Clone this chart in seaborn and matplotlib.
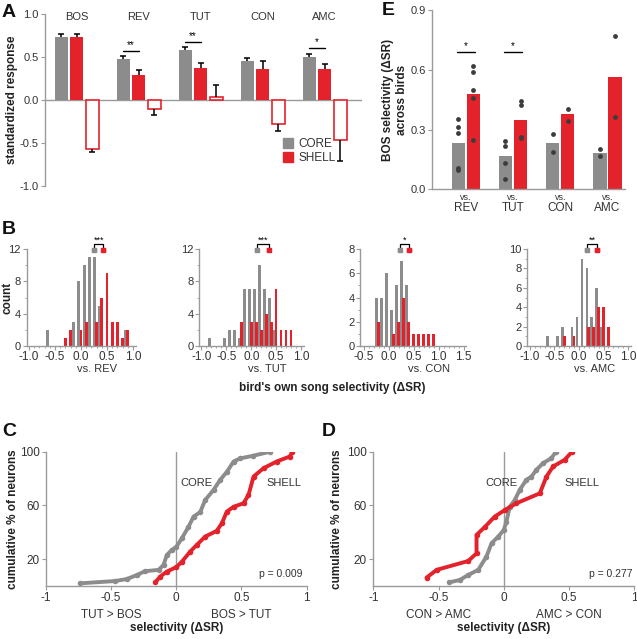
import pandas as pd
import matplotlib.pyplot as plt
from matplotlib.patches import Patch
import seaborn as sns

GRAY = "#8c8c8c"
RED = "#e3222b"
AXC = "#9a9a9a"
TXT = "#333333"
DOT = "#3c3c3c"

# ---------- A: standardized response
stimuli = ["BOS", "REV", "TUT", "CON", "AMC"]
populations = ["CORE", "SHELL", "SHELL open"]
core_resp = [0.735, 0.475, 0.58, 0.45, 0.495]
core_err = [0.03, 0.035, 0.035, 0.035, 0.045]
shell_resp = [0.735, 0.285, 0.375, 0.36, 0.355]
shell_err = [0.035, 0.065, 0.06, 0.095, 0.06]
open_resp = [-0.575, -0.10, 0.04, -0.275, -0.465]
open_err = [0.03, 0.07, 0.13, 0.09, 0.25]
sig_a_stim = ["REV", "TUT", "AMC"]
sig_a_y = [0.57, 0.68, 0.60]
sig_a_txt = ["**", "**", "*"]

# ---------- E: BOS selectivity across birds
e_stimuli = ["REV", "TUT", "CON", "AMC"]
e_core_mean = [0.23, 0.165, 0.23, 0.18]
e_shell_mean = [0.48, 0.348, 0.376, 0.565]
e_core_birds = [[0.355, 0.315, 0.285, 0.105, 0.095], [0.243, 0.217, 0.134, 0.052],
                [0.276, 0.186], [0.2, 0.166]]
e_shell_birds = [[0.62, 0.59, 0.498, 0.46, 0.248], [0.445, 0.423, 0.265, 0.26],
                 [0.404, 0.343], [0.771, 0.365]]
sig_e_stim = ["REV", "TUT"]
sig_e_y = [0.69, 0.69]

# ---------- B: histograms (bin index k -> selectivity k/10)
hist_names = ["vs. REV", "vs. TUT", "vs. CON", "vs. AMC"]
rev_core_k = [-6, -1, 0, 1, 2, 3, 4, 9]
rev_core_n = [2, 3, 8, 10, 11, 11, 5, 2]
rev_shell_k = [-3, -2, 0, 1, 3, 4, 5, 6, 7, 8, 9]
rev_shell_n = [1, 2, 2, 3, 3, 6, 9, 3, 3, 1, 2]
tut_core_k = [-8, -5, -4, -3, -2, -1, 0, 1, 2, 3, 4, 5]
tut_core_n = [1, 1, 2, 2, 1, 7, 7, 7, 10, 7, 6, 2]
tut_shell_k = [-2, 0, 1, 2, 3, 4, 5, 6, 7, 8]
tut_shell_n = [3, 3, 3, 2, 4, 3, 7, 2, 2, 2]
con_core_k = [-2, -1, 0, 1, 2, 3, 4]
con_core_n = [4, 4, 6, 3, 5, 7, 5]
con_shell_k = [-2, 1, 2, 3, 4, 5, 6, 7, 8, 9]
con_shell_n = [2, 1, 2, 4, 2, 1, 1, 1, 1, 1]
amc_core_k = [-6, -4, -3, -1, 0, 1, 2, 3, 4, 5]
amc_core_n = [1, 1, 2, 2, 3, 9, 8, 3, 6, 2]
amc_shell_k = [-3, -1, 2, 3, 4, 5, 6]
amc_shell_n = [1, 1, 2, 2, 4, 4, 2]
hist_core_mean = [0.25, 0.11, 0.22, 0.16]
hist_shell_mean = [0.43, 0.35, 0.41, 0.37]
hist_stars = ["***", "***", "*", "**"]
hist_ymax = [12, 12, 8, 10]
hist_yticks = [[0, 4, 8, 12], [0, 4, 8, 12], [0, 2, 4, 6, 8], [0, 2, 4, 6, 8, 10]]

# ---------- C / D: cumulative distributions
c_core_x = [-0.735, -0.467, -0.378, -0.30, -0.24, -0.135, -0.097, -0.072, -0.033, 0.0, 0.043,
            0.094, 0.133, 0.184, 0.222, 0.286, 0.337, 0.388, 0.44, 0.49, 0.59, 0.72]
c_core_pct = [2, 3.7, 5.2, 8.2, 11, 12, 15.7, 23, 27, 29, 35.5,
              44, 51.7, 55, 64, 71.5, 79, 85, 92.7, 95, 97, 100]
c_shell_x = [-0.16, -0.123, -0.072, 0.0, 0.043, 0.107, 0.158, 0.222, 0.31, 0.35, 0.388,
             0.44, 0.516, 0.554, 0.593, 0.669, 0.77, 0.87, 0.89]
c_shell_pct = [2.7, 7, 10.7, 14, 18, 25.6, 30.6, 36.8, 41, 46.7, 55.4,
               59, 61.6, 67.8, 81.5, 87.7, 92.7, 96.4, 100]
d_core_x = [-0.418, -0.337, -0.273, -0.196, -0.133, -0.094, -0.043, 0.0, 0.02, 0.046, 0.084,
            0.122, 0.173, 0.212, 0.25, 0.30, 0.365, 0.40]
d_core_pct = [2.7, 4.5, 8.2, 12, 21.9, 31.8, 36.8, 41.7, 48, 59, 64,
              71.6, 79, 81.5, 86.5, 91.4, 95.2, 100]
d_shell_x = [-0.592, -0.515, -0.273, -0.209, -0.209, -0.145, -0.069, 0.008, 0.097, 0.276,
             0.327, 0.378, 0.467, 0.523]
d_shell_pct = [6.2, 12, 18.6, 24.3, 38, 44, 51.7, 56.6, 61.6, 69, 81.5, 89, 94, 100]

sns.set_theme(style="ticks")
plt.rcParams["font.family"] = ["Liberation Sans", "DejaVu Sans"]
plt.rcParams["axes.unicode_minus"] = False

W, H = 637, 639
fig = plt.figure(figsize=(W / 100, H / 100), dpi=100)


def add_ax(x0, y0, x1, y1):
    return fig.add_axes([x0 / W, 1 - y1 / H, (x1 - x0) / W, (y1 - y0) / H])


def style(ax, size=8):
    sns.despine(ax=ax)
    for s in ("left", "bottom"):
        ax.spines[s].set_color(AXC)
        ax.spines[s].set_linewidth(1.0)
    ax.tick_params(colors=AXC, labelcolor=TXT, labelsize=size, length=3, width=0.8, pad=1.5)


def bold_label(ax, text, x, size=8.5):
    ax.set_ylabel(text, fontsize=size, fontweight="bold", color="#222222", va="center")
    ax.yaxis.set_label_coords(x, 0.5)


# ================= A
ax = add_ax(45, 14, 362, 186)
df_a = pd.DataFrame({
    "stimulus": stimuli * 3,
    "population": [p for p in populations for _ in stimuli],
    "response": core_resp + shell_resp + open_resp,
})
sns.barplot(data=df_a, x="stimulus", y="response", hue="population", order=stimuli,
            hue_order=populations, palette=[GRAY, RED, "white"], saturation=1,
            width=0.75, gap=0.16, errorbar=None, legend=False, ax=ax)
for i, (cont, err) in enumerate(zip(ax.containers, [core_err, shell_err, open_err])):
    for bar, e in zip(cont, err):
        if i == 2:
            bar.set_edgecolor(RED)
            bar.set_linewidth(1.2)
        else:
            bar.set_linewidth(0)
        xc = bar.get_x() + bar.get_width() / 2
        tip = bar.get_y() + bar.get_height()
        end = tip + e if tip >= 0 else tip - e
        ax.vlines(xc, tip, end, color="black", lw=1.1, zorder=3)
        ax.hlines(end, xc - 0.05, xc + 0.05, color="black", lw=1.1, zorder=3)
ax.axhline(0, color=AXC, lw=1, zorder=0.5)
for i, s in enumerate(stimuli):
    ax.text(i, 0.965, s, ha="center", va="center", fontsize=8, color=TXT)
for s, y, t in zip(sig_a_stim, sig_a_y, sig_a_txt):
    j = stimuli.index(s)
    b0, b1 = ax.containers[0][j], ax.containers[1][j]
    x0 = b0.get_x() + b0.get_width() / 2
    x1 = b1.get_x() + b1.get_width() / 2
    ax.plot([x0, x1], [y, y], color="black", lw=1)
    ax.text((x0 + x1) / 2, y + 0.01, t, ha="center", va="bottom", fontsize=7, color="black")
ax.set_xlim(-0.51, 4.6)
ax.set_ylim(-1.0, 1.0)
ax.set_yticks([-1.0, -0.5, 0.0, 0.5, 1.0])
ax.set_yticklabels(["-1.0", "-0.5", "0.0", "0.5", "1.0"])
ax.set_xticks([])
ax.set_xlabel("")
style(ax)
ax.spines["bottom"].set_visible(False)
bold_label(ax, "standardized response", -0.105)
ax.legend(handles=[Patch(color=GRAY), Patch(color=RED)], labels=["CORE", "SHELL"],
          loc="lower left", bbox_to_anchor=(0.735, 0.1), frameon=False, fontsize=8.5,
          handlelength=0.9, handleheight=0.9, handletextpad=0.4, labelspacing=0.15,
          borderaxespad=0, labelcolor=TXT)

# ================= E
ax = add_ax(432, 10, 625, 189.3)
df_e = pd.DataFrame({
    "stimulus": e_stimuli * 2,
    "population": ["CORE"] * 4 + ["SHELL"] * 4,
    "selectivity": e_core_mean + e_shell_mean,
})
sns.barplot(data=df_e, x="stimulus", y="selectivity", hue="population", order=e_stimuli,
            hue_order=["CORE", "SHELL"], palette=[GRAY, RED], saturation=1,
            width=0.64, gap=0.12, errorbar=None, legend=False, ax=ax)
for cont, birds in zip(ax.containers, [e_core_birds, e_shell_birds]):
    for bar, vals in zip(cont, birds):
        bar.set_linewidth(0)
        xc = bar.get_x() + bar.get_width() / 2
        ax.scatter([xc] * len(vals), vals, s=12, color=DOT, linewidths=0, zorder=3)
for s, y in zip(sig_e_stim, sig_e_y):
    j = e_stimuli.index(s)
    b0, b1 = ax.containers[0][j], ax.containers[1][j]
    x0 = b0.get_x() + b0.get_width() / 2
    x1 = b1.get_x() + b1.get_width() / 2
    ax.plot([x0 - 0.03, x1 + 0.03], [y, y], color="black", lw=1)
    ax.text((x0 + x1) / 2, y + 0.005, "*", ha="center", va="bottom", fontsize=7, color="black")
ax.set_xlim(-0.715, 3.37)
ax.set_ylim(0, 0.9)
ax.set_yticks([0.0, 0.3, 0.6, 0.9])
ax.set_yticklabels(["0.0", "0.3", "0.6", "0.9"])
ax.set_xticks([])
ax.set_xlabel("")
style(ax)
tr = ax.get_xaxis_transform()
for i, s in enumerate(e_stimuli):
    ax.text(i, -0.043, "vs.", ha="center", va="center", fontsize=6.5, color=TXT, transform=tr)
    ax.text(i, -0.104, s, ha="center", va="center", fontsize=8.5, color=TXT, transform=tr)
bold_label(ax, "BOS selectivity (ΔSR)\nacross birds", -0.19, size=8.5)

# ================= B
hist_boxes = [(26.5, 135.5), (199, 303.5), (360, 466), (527, 631)]
hist_xlims = [(-1.05, 1.05), (-1.05, 1.05), (-0.57, 1.55), (-1.06, 1.06)]
hist_xticks = [[-1.0, -0.5, 0.0, 0.5, 1.0]] * 2 + [[-0.5, 0.0, 0.5, 1.0, 1.5]] + [[-1.0, -0.5, 0.0, 0.5, 1.0]]
hist_data = [(rev_core_k, rev_core_n, rev_shell_k, rev_shell_n),
             (tut_core_k, tut_core_n, tut_shell_k, tut_shell_n),
             (con_core_k, con_core_n, con_shell_k, con_shell_n),
             (amc_core_k, amc_core_n, amc_shell_k, amc_shell_n)]
for i in range(4):
    x0, x1 = hist_boxes[i]
    ax = add_ax(x0, 249, x1, 346)
    ck, cn, sk, sn = hist_data[i]
    ax.bar([k / 10 - 0.04 for k in ck], cn, width=0.055, color=GRAY, linewidth=0)
    ax.bar([k / 10 for k in sk], sn, width=0.055, color=RED, linewidth=0)
    ym = hist_ymax[i]
    ax.set_xlim(*hist_xlims[i])
    ax.set_ylim(0, ym)
    ax.set_xticks(hist_xticks[i])
    ax.set_xticklabels([f"{t:.1f}" for t in hist_xticks[i]])
    ax.set_xticks([t / 10 for t in range(int(hist_xlims[i][0] * 10), int(hist_xlims[i][1] * 10) + 1)],
                  minor=True)
    ax.set_yticks(hist_yticks[i])
    step = hist_yticks[i][1] - hist_yticks[i][0]
    ax.set_yticks([t + step / 2 for t in hist_yticks[i][:-1]], minor=True)
    style(ax, size=8.5)
    ax.tick_params(axis="x", pad=0.5)
    ax.tick_params(axis="y", labelsize=8, pad=1)
    ax.tick_params(which="minor", length=1.5, width=0.6, colors=AXC)
    # mean +/- sem markers and significance bracket
    mc, ms = hist_core_mean[i], hist_shell_mean[i]
    ax.errorbar([mc], [ym * 0.985], xerr=0.03, fmt="s", ms=2.5, color=GRAY, capsize=1.5,
                lw=1, clip_on=False, zorder=4)
    ax.errorbar([ms], [ym * 0.985], xerr=0.035, fmt="s", ms=2.5, color=RED, capsize=1.5,
                lw=1.2, clip_on=False, zorder=4)
    ax.plot([mc, mc, ms, ms], [ym * 1.015, ym * 1.05, ym * 1.05, ym * 1.015], color="black",
            lw=0.9, clip_on=False)
    ax.text((mc + ms) / 2, ym * 1.04, hist_stars[i], ha="center", va="bottom", fontsize=6.5,
            color="black")
    ax.text(0.65, -0.235, hist_names[i], transform=ax.transAxes, ha="center", va="center",
            fontsize=8, color=TXT)
    if i == 0:
        bold_label(ax, "count", -0.175, size=8.5)

fig.text(332 / W, 1 - 388 / H, "bird's own song selectivity (ΔSR)", ha="center", va="center",
         fontsize=8.5, fontweight="bold", color="#222222")

# ================= C / D
cdf_sets = [
    (45.7, c_core_x, c_core_pct, c_shell_x, c_shell_pct, "TUT > BOS", "BOS > TUT",
     "p = 0.009", 0.03, 0.695, 0.965, -0.125),
    (373.3, d_core_x, d_core_pct, d_shell_x, d_shell_pct, "CON > AMC", "AMC > CON",
     "p = 0.277", -0.145, 0.467, 0.99, -0.139),
]
for left, cx, cp, sx, sp, lab_l, lab_r, ptxt, core_lx, shell_lx, p_x, ylab_x in cdf_sets:
    ax = add_ax(left, 451.7, left + 261, 586)
    ax.axvline(0, color=AXC, lw=1, zorder=0.5)
    sns.lineplot(x=cx, y=cp, sort=False, estimator=None, color=GRAY, lw=2.8, marker="o",
                 markersize=4, markeredgewidth=0, ax=ax)
    sns.lineplot(x=sx, y=sp, sort=False, estimator=None, color=RED, lw=2.8, marker="o",
                 markersize=4, markeredgewidth=0, ax=ax)
    ax.set_xlim(-1, 1)
    ax.set_ylim(0, 100)
    ax.set_xticks([-1, -0.5, 0, 0.5, 1])
    ax.set_xticklabels(["-1", "-0.5", "0", "0.5", "1"])
    ax.set_yticks([20, 60, 100])
    style(ax, size=8.5)
    ax.text(core_lx, 77, "CORE", ha="left", va="center", fontsize=8, color=TXT)
    ax.text(shell_lx, 77, "SHELL", ha="left", va="center", fontsize=8, color=TXT)
    ax.text(p_x, 8.7, ptxt, ha="right", va="center", fontsize=7.5, color=TXT)
    tr = ax.get_xaxis_transform()
    ax.text(-0.5, -0.216, lab_l, ha="center", va="center", fontsize=8.5, color=TXT, transform=tr)
    ax.text(0.5, -0.216, lab_r, ha="center", va="center", fontsize=8.5, color=TXT, transform=tr)
    ax.text(0.0, -0.31, "selectivity (ΔSR)", ha="center", va="center", fontsize=8.5,
            fontweight="bold", color="#222222", transform=tr)
    bold_label(ax, "cumulative % of neurons", ylab_x, size=8.5)

# panel letters
for letter, x, y in [("A", 2, 4), ("E", 382, 2), ("B", 2, 221), ("C", 2, 423), ("D", 322, 423)]:
    fig.text(x / W, 1 - y / H, letter, ha="left", va="top", fontsize=14, fontweight="bold",
             color="#111111")

fig.savefig("out.png", dpi=100)
